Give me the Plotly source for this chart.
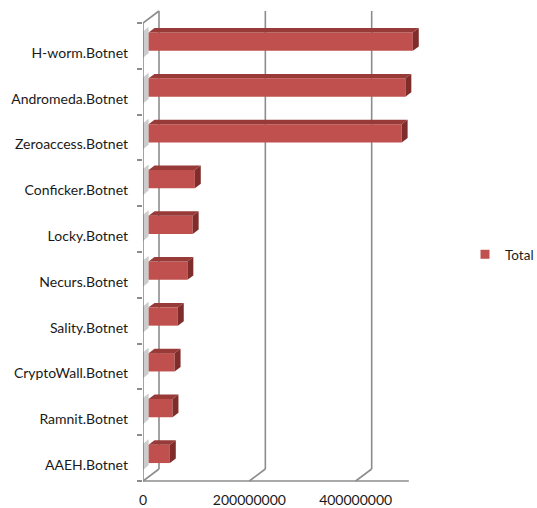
import plotly.graph_objects as go

# Botnet totals, bottom to top as drawn
categories = ["AAEH.Botnet", "Ramnit.Botnet", "CryptoWall.Botnet", "Sality.Botnet",
              "Necurs.Botnet", "Locky.Botnet", "Conficker.Botnet", "Zeroaccess.Botnet",
              "Andromeda.Botnet", "H-worm.Botnet"]
totals = [40e6, 45e6, 49e6, 55e6, 73e6, 83e6, 87e6, 476e6, 483e6, 497e6]
x_ticks = [0, 200e6, 400e6]
x_tick_labels = ["0", "200000000", "400000000"]
x_max = 500e6
series_name = "Total"

W, H = 537, 508
# plot frame in pixels
PL, PR, PT, PB = 143, 430, 5, 485
px_per_val = 0.5317e-6          # horizontal pixels per unit of value
px_per_cat = 45.8               # vertical pixels per category slot
n = len(categories)

x_range = [0, (PR - PL) / px_per_val]
y_range = [-(PB - 481) / px_per_cat, (481 - PT) / px_per_cat]

# oblique depth of the 3-D box (screen offset of the back wall)
DX = 16 / px_per_val
DY = 12 / px_per_cat
# bar placement inside the depth and bar thickness
bar_front = 0.35
bar_depth = 0.37
bar_h = 0.4

FRONT = "#C0504D"
TOP = "#973A38"
SIDE = "#7E2D2B"
GRID = "#8C8C8C"

fig = go.Figure()

# left-wall shading near each bar
for i, v in enumerate(totals):
    yc = i + 0.5 + bar_front * DY
    y0, y1 = yc - bar_h / 2 - 0.05, yc + bar_h / 2 + 0.12
    fig.add_trace(go.Scatter(
        x=[0, bar_front * DX, bar_front * DX, 0, 0],
        y=[y0 - 0.1, y0, y1, y1 - 0.1, y0 - 0.1],
        fill="toself", mode="none", fillcolor="rgba(110,110,110,0.35)",
        hoverinfo="skip", showlegend=False))

# bar front faces
fig.add_trace(go.Bar(
    orientation="h",
    y=[i + 0.5 + bar_front * DY for i in range(n)],
    x=totals,
    base=[bar_front * DX] * n,
    width=bar_h,
    marker=dict(color=FRONT, line=dict(width=0)),
    name=series_name, showlegend=False,
    hovertext=categories, hoverinfo="text+x"))

# bar top and right-hand faces
ddx, ddy = bar_depth * DX, bar_depth * DY
for i, v in enumerate(totals):
    yc = i + 0.5 + bar_front * DY
    yb, yt = yc - bar_h / 2, yc + bar_h / 2
    x0 = bar_front * DX
    x1 = x0 + v
    fig.add_trace(go.Scatter(
        x=[x0, x1, x1 + ddx, x0 + ddx, x0],
        y=[yt, yt, yt + ddy, yt + ddy, yt],
        fill="toself", mode="none", fillcolor=TOP,
        hoverinfo="skip", showlegend=False))
    fig.add_trace(go.Scatter(
        x=[x1, x1, x1 + ddx, x1 + ddx, x1],
        y=[yb, yt, yt + ddy, yb + ddy, yb],
        fill="toself", mode="none", fillcolor=SIDE,
        hoverinfo="skip", showlegend=False))

# legend entry
fig.add_trace(go.Scatter(
    x=[None], y=[None], mode="markers", name=series_name,
    marker=dict(symbol="square", size=9, color=FRONT)))

# box outline: back-wall gridlines, floor, left wall
shapes = []
line = dict(color=GRID, width=1.6)
for t in x_ticks:
    shapes.append(dict(type="line", xref="x", yref="y",
                       x0=t + DX, y0=DY, x1=t + DX, y1=n + DY, line=line, layer="below"))
    shapes.append(dict(type="line", xref="x", yref="y",
                       x0=t, y0=0, x1=t + DX, y1=DY, line=line, layer="below"))
shapes.append(dict(type="line", xref="x", yref="y",
                   x0=0, y0=0, x1=x_max, y1=0, line=line, layer="below"))
shapes.append(dict(type="line", xref="x", yref="y",
                   x0=0, y0=0, x1=0, y1=n, line=line, layer="below"))
shapes.append(dict(type="line", xref="x", yref="y",
                   x0=0, y0=n, x1=DX, y1=n + DY, line=line, layer="below"))

font = dict(family="Lato", size=14, color="#1a1a1a")
fig.update_layout(
    width=W, height=H,
    margin=dict(l=PL, r=W - PR, t=PT, b=H - PB, autoexpand=False),
    paper_bgcolor="white", plot_bgcolor="white",
    shapes=shapes,
    font=font,
    showlegend=True,
    legend=dict(xref="container", yref="container", x=465 / W, y=1 - 254.5 / H,
                xanchor="left", yanchor="middle",
                font=dict(family="Lato", size=13.5, color="#1a1a1a"),
                bgcolor="rgba(0,0,0,0)"),
    xaxis=dict(range=x_range, showgrid=False, zeroline=False, showline=False,
               tickvals=x_ticks, ticktext=x_tick_labels, ticks="",
               ticklabelstandoff=5, fixedrange=True),
    yaxis=dict(range=y_range, showgrid=False, zeroline=False, showline=False,
               tickvals=[i + 0.5 for i in range(n)], ticktext=categories,
               ticks="", ticklabelstandoff=14, ticklabelshift=7,
               minor=dict(tickvals=list(range(n + 1)), ticks="outside",
                          ticklen=5, tickcolor=GRID, tickwidth=1.6),
               fixedrange=True),
)

fig.write_html("out.html")
